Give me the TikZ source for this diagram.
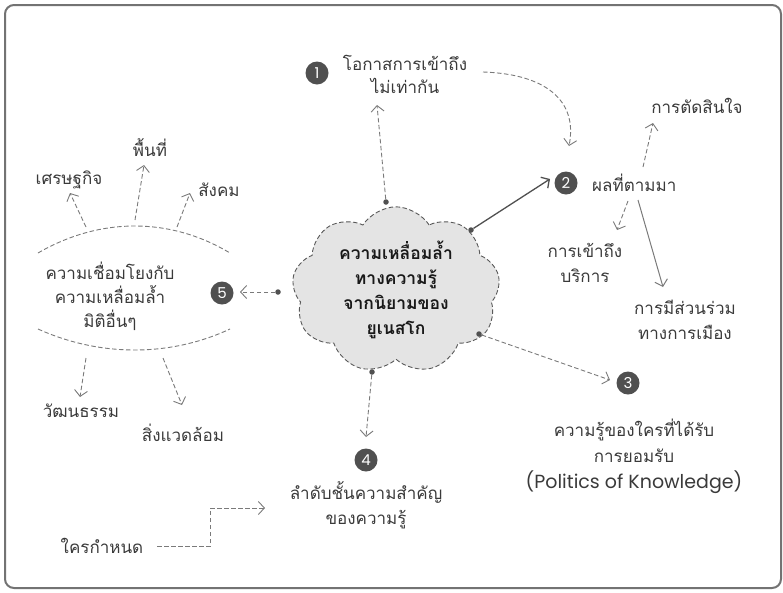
\documentclass[tikz,border=0pt]{standalone}
\usepackage{fontspec}
\setmainfont[Script=Thai]{Loma}
\newfontfamily\latinf{Poppins}
\usetikzlibrary{arrows.meta,shapes.symbols}
\definecolor{txtc}{HTML}{3A3A3A}
\definecolor{numc}{HTML}{505050}
\definecolor{linec}{HTML}{7A7A7A}
\definecolor{cloudf}{HTML}{E4E4E4}
\tikzset{
  txt/.style={text=txtc, font=\fontsize{17}{25}\selectfont, align=center, inner sep=0pt},
  num/.style={circle, fill=numc, text=white, minimum size=23pt, inner sep=0pt, font=\latinf\fontsize{15}{15}\selectfont},
  dline/.style={draw=linec, line width=0.9pt, dash pattern=on 4.5pt off 2.5pt, -{Straight Barb[length=6pt,width=13pt]}},
  sline/.style={draw=linec, line width=1pt, -{Straight Barb[length=6pt,width=13pt]}},
  darkline/.style={draw=numc, line width=1.3pt, -{Straight Barb[length=6pt,width=13pt]}},
  dotn/.style={circle, fill=numc, minimum size=5.5pt, inner sep=0pt},
  arcline/.style={draw=linec, line width=0.9pt, dash pattern=on 4.5pt off 2.5pt},
}
\begin{document}
\begin{tikzpicture}[x=1pt,y=-1pt]
\useasboundingbox (0,0) rectangle (783,592);
\draw[rounded corners=9pt, line width=2pt, draw=black!55] (5,5) rectangle (781,588);

% central cloud
\node[cloud, cloud puffs=9, cloud puff arc=115, aspect=1.4, draw=black!65, fill=cloudf,
      dash pattern=on 4.5pt off 2.5pt, line width=0.9pt, minimum width=207pt, minimum height=152pt,
      inner sep=0pt, text=black!90, align=center,
      font=\fontsize{17.5}{25}\selectfont\bfseries] (cl) at (396,290)
  {ความเหลื่อมล้ำ\\ทางความรู้\\จากนิยามของ\\ยูเนสโก};

% dots on cloud
\node[dotn] (d1) at (386,202) {};
\node[dotn] (d2) at (471,230) {};
\node[dotn] (d3) at (479,334) {};
\node[dotn] (d4) at (372,372) {};
\node[dotn] (d5) at (278,292) {};

% 1
\node[num] (n1) at (317,73) {1};
\node[txt, text width=150pt, font=\fontsize{17}{23}\selectfont] (t1) at (405,74) {โอกาสการเข้าถึง\\ไม่เท่ากัน};
\coordinate (a1) at (377,105);
\draw[dline] (d1) -- (a1);
\coordinate (c1s) at (483,72);
\coordinate (c1e) at (569,146);
\draw[dline] (c1s) .. controls (545,74) and (578,100) .. (c1e);

% 2
\node[num] (n2) at (566,183) {2};
\node[txt, anchor=west] (t2) at (592,183) {ผลที่ตามมา};
\coordinate (a2) at (550,179);
\draw[darkline] (d2) -- (a2);
\node[txt] (t2a) at (697,106) {การตัดสินใจ};
\coordinate (b2a) at (643,167);
\coordinate (e2a) at (653,123);
\draw[dline] (b2a) -- (e2a);
\node[txt] (t2b) at (585,263) {การเข้าถึง\\บริการ};
\coordinate (b2b) at (628,201);
\coordinate (e2b) at (617,230);
\draw[dline] (b2b) -- (e2b);
\node[txt] (t2c) at (685,320) {การมีส่วนร่วม\\ทางการเมือง};
\coordinate (b2c) at (638,200);
\coordinate (e2c) at (663,287);
\draw[sline] (b2c) -- (e2c);

% 3
\node[num] (n3) at (628,383) {3};
\coordinate (a3) at (610,380);
\draw[dline] (d3) -- (a3);
\node[txt, font=\fontsize{17}{26}\selectfont] (t3) at (634,456) {ความรู้ของใครที่ได้รับ\\การยอมรับ\\{\latinf\fontsize{19}{26}\selectfont (Politics of Knowledge)}};

% 4
\node[num] (n4) at (366,460) {4};
\coordinate (a4) at (366,437);
\draw[dline] (d4) -- (a4);
\node[txt] (t4) at (366,505) {ลำดับชั้นความสำคัญ\\ของความรู้};
\node[txt] (t4w) at (102,546) {ใครกำหนด};
\coordinate (w1) at (157,546);
\coordinate (w2) at (210,546);
\coordinate (w3) at (210,508);
\coordinate (w4) at (265,508);
\draw[dline] (w1) -- (w2) -- (w3) -- (w4);

% 5
\node[num] (n5) at (222,293) {5};
\coordinate (a5) at (240,292);
\draw[dline] (d5) -- (a5);
\node[txt, font=\fontsize{17}{24}\selectfont] (t5) at (110,296) {ความเชื่อมโยงกับ\\ความเหลื่อมล้ำ\\มิติอื่นๆ};
\coordinate (u1) at (38,253);
\coordinate (u2) at (230,253);
\coordinate (l1) at (38,329);
\coordinate (l2) at (230,329);
\draw[arcline] (u1) .. controls (100,217) and (170,217) .. (u2);
\draw[arcline] (l1) .. controls (100,357) and (170,357) .. (l2);

\node[txt] (s1) at (69,180) {เศรษฐกิจ};
\node[txt] (s2) at (150,148) {พื้นที่};
\node[txt] (s3) at (219,190) {สังคม};
\node[txt] (s4) at (81,411) {วัฒนธรรม};
\node[txt] (s5) at (183,433) {สิ่งแวดล้อม};
\coordinate (p1) at (86,227);  \coordinate (q1) at (70,193);
\coordinate (p2) at (135,220); \coordinate (q2) at (144,165);
\coordinate (p3) at (177,227); \coordinate (q3) at (190,193);
\coordinate (p4) at (86,358);  \coordinate (q4) at (80,397);
\coordinate (p5) at (163,358); \coordinate (q5) at (182,405);
\draw[dline] (p1) -- (q1);
\draw[dline] (p2) -- (q2);
\draw[dline] (p3) -- (q3);
\draw[dline] (p4) -- (q4);
\draw[dline] (p5) -- (q5);
\end{tikzpicture}
\end{document}
